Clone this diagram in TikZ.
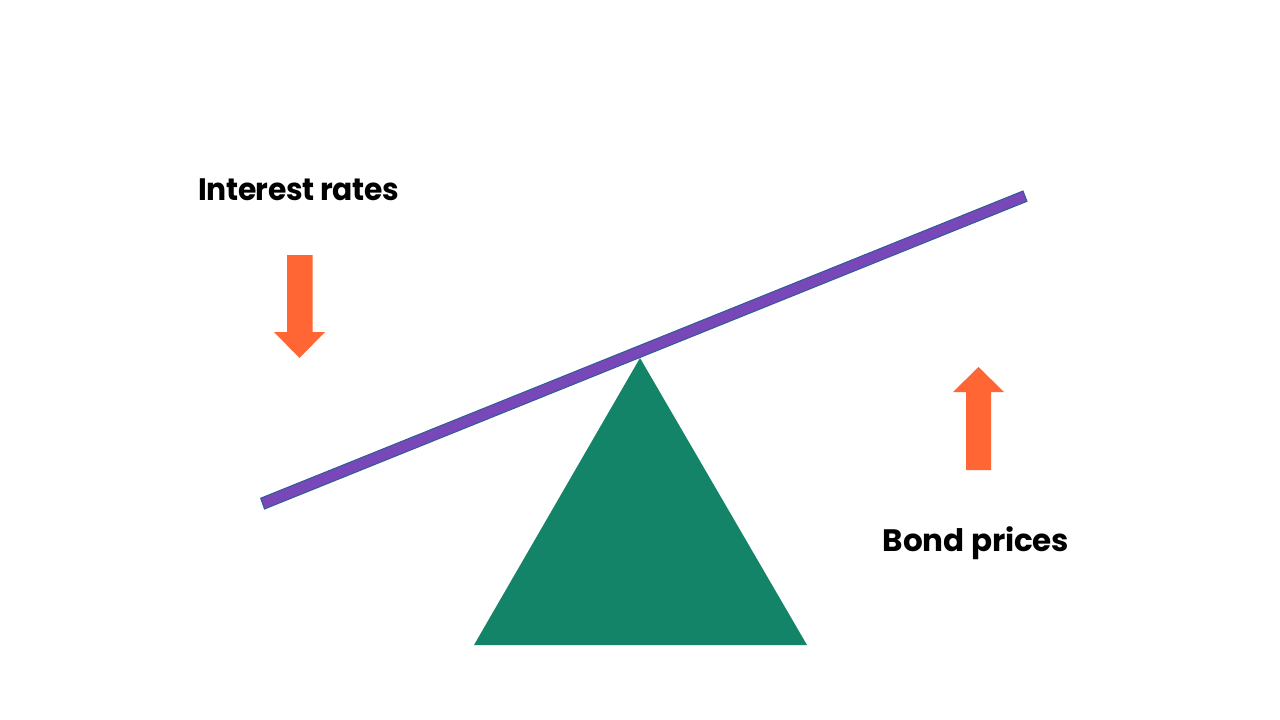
\documentclass[tikz,border=0pt]{standalone}
\usepackage{fontspec}
\setmainfont{Poppins}
\definecolor{beamfill}{HTML}{7847B8}
\definecolor{beamedge}{HTML}{2F5C9A}
\definecolor{fulcrum}{HTML}{148468}
\definecolor{arrowc}{HTML}{FF6633}
\tikzset{
  beam/.style={fill=beamfill,draw=beamedge,line width=1pt},
  pivot/.style={fill=fulcrum},
  bigarrow/.style={fill=arrowc},
  lab/.style={font=\fontsize{31}{36}\selectfont\bfseries,text=black,inner sep=0pt,anchor=base}
}
\begin{document}
\begin{tikzpicture}[x=1pt,y=-1pt]
\useasboundingbox (0,0) rectangle (1280,720);
\fill[white] (0,0) rectangle (1280,720);
\fill[pivot] (640,358) -- (807,645) -- (474,645) -- cycle;
\draw[beam] (1023,191) -- (1027,201.3) -- (264.5,509) -- (260.7,498.2) -- cycle;
\fill[bigarrow] (287,255) -- (312.5,255) -- (312.5,332) -- (325,332) -- (299.5,358) -- (274,332) -- (287,332) -- cycle;
\fill[bigarrow] (966,470) -- (991,470) -- (991,392) -- (1004,392) -- (978.5,367) -- (953,392) -- (966,392) -- cycle;
\node[lab] (rates) at (298.5,200) {\addfontfeatures{FakeStretch=0.96,LetterSpace=-1.3}Interest rates};
\node[lab] (bonds) at (976,551) {\addfontfeatures{LetterSpace=-0.3}Bond prices};
\end{tikzpicture}
\end{document}
